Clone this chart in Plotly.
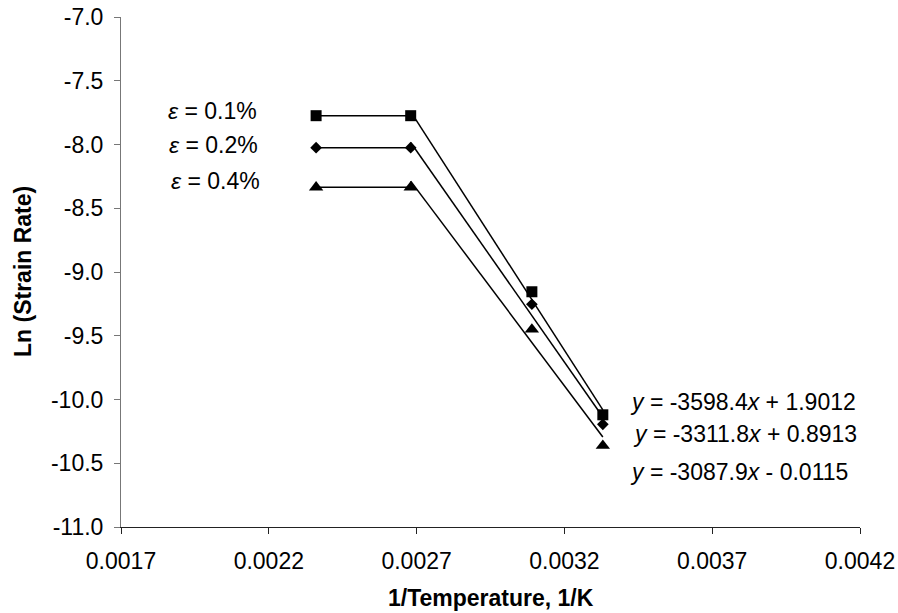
import plotly.graph_objects as go

# Data
inv_T = [0.00236, 0.00268, 0.00309, 0.00333]
ln_rate_01 = [-7.774, -7.774, -9.155, -10.12]
ln_rate_02 = [-8.025, -8.025, -9.253, -10.195]
ln_rate_04 = [-8.336, -8.336, -9.45, -10.362]

labels = ["\u03b5 = 0.1%", "\u03b5 = 0.2%", "\u03b5 = 0.4%"]
slopes = [-3598.4, -3311.8, -3087.9]
intercepts = [1.9012, 0.8913, -0.0115]
eq_texts = ["<i>y</i> = -3598.4<i>x</i> + 1.9012",
            "<i>y</i> = -3311.8<i>x</i> + 0.8913",
            "<i>y</i> = -3087.9<i>x</i> - 0.0115"]

x_ticks = [0.0017, 0.0022, 0.0027, 0.0032, 0.0037, 0.0042]
x_ticktext = ["0.0017", "0.0022", "0.0027", "0.0032", "0.0037", "0.0042"]
y_ticks = [-11.0, -10.5, -10.0, -9.5, -9.0, -8.5, -8.0, -7.5, -7.0]
y_ticktext = ["-11.0", "-10.5", "-10.0", "-9.5", "-9.0", "-8.5", "-8.0", "-7.5", "-7.0"]

series = [ln_rate_01, ln_rate_02, ln_rate_04]
symbols = ["square", "diamond", "triangle-up"]
sizes = [11, 9, 12.5]

FONT = "Arial, Liberation Sans, sans-serif"
FS = 23

fig = go.Figure()

for ys, sym, sz, m, b in zip(series, symbols, sizes, slopes, intercepts):
    # horizontal segment between first two points
    fig.add_trace(go.Scatter(x=inv_T[:2], y=ys[:2], mode="lines",
                             line=dict(color="black", width=1.5),
                             showlegend=False, hoverinfo="skip"))
    # trendline over last three points (from the displayed equation)
    xs = [inv_T[1], inv_T[3]]
    fig.add_trace(go.Scatter(x=xs, y=[m * x + b for x in xs], mode="lines",
                             line=dict(color="black", width=1.5),
                             showlegend=False, hoverinfo="skip"))
    fig.add_trace(go.Scatter(x=inv_T, y=ys, mode="markers",
                             marker=dict(symbol=sym, size=sz, color="black"),
                             showlegend=False))

# epsilon labels
for lab, xv, yv in zip(labels, [0.002009, 0.002012, 0.002018], [-7.74, -8.005, -8.29]):
    fig.add_annotation(x=xv, y=yv, text=lab.replace("\u03b5", "<i>\u03b5</i>"),
                       showarrow=False, xanchor="center", yanchor="middle",
                       font=dict(family=FONT, size=FS, color="black"))

# equation labels
for txt, xv, yv in zip(eq_texts, [0.003415, 0.003425, 0.003414], [-10.02, -10.27, -10.565]):
    fig.add_annotation(x=xv, y=yv, text=txt, showarrow=False,
                       xanchor="left", yanchor="middle",
                       font=dict(family=FONT, size=FS, color="black"))

# axis titles
fig.add_annotation(x=0.5, y=0, xref="paper", yref="paper", text="<b>1/Temperature, 1/K</b>",
                   showarrow=False, xanchor="center", yanchor="middle", yshift=-71,
                   font=dict(family=FONT, size=FS, color="black"))
fig.add_annotation(x=0, y=0.5, xref="paper", yref="paper", text="<b>Ln (Strain Rate)</b>",
                   showarrow=False, xanchor="center", yanchor="middle", xshift=-98,
                   textangle=-90, font=dict(family=FONT, size=FS, color="black"))

fig.update_layout(
    width=898, height=613,
    margin=dict(l=121, r=38, t=17, b=86, autoexpand=False),
    paper_bgcolor="white", plot_bgcolor="white",
    font=dict(family=FONT, size=FS, color="black"),
    xaxis=dict(range=[0.0017, 0.0042], tickmode="array",
               tickvals=x_ticks, ticktext=x_ticktext, automargin=False,
               showgrid=False, zeroline=False, showline=True, linecolor="#222222",
               linewidth=1, ticks="outside", ticklen=6, tickcolor="#222222",
               ticklabelstandoff=7,
               tickfont=dict(family=FONT, size=FS, color="black")),
    yaxis=dict(range=[-11.0, -7.0], tickmode="array",
               tickvals=y_ticks, ticktext=y_ticktext, automargin=False,
               showgrid=False, zeroline=False, showline=True, linecolor="#777777",
               linewidth=1, ticks="outside", ticklen=6, tickcolor="#777777",
               ticklabelstandoff=6,
               tickfont=dict(family=FONT, size=FS, color="black")),
)

fig.write_html("out.html")
